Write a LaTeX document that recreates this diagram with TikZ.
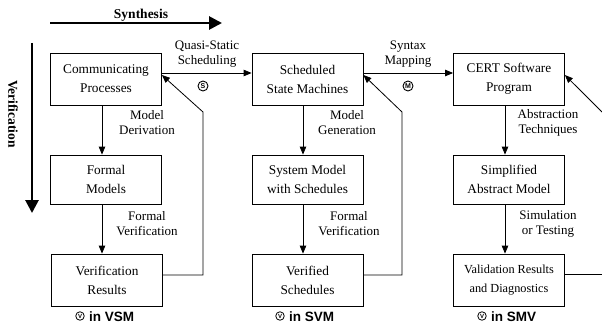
\documentclass[tikz,border=0pt]{standalone}
\usepackage{fontspec}
\setmainfont{Liberation Serif}
\newfontfamily\arialf{Liberation Sans}
\usetikzlibrary{arrows.meta}
\begin{document}
\begin{tikzpicture}[x=1pt,y=-1pt,
  box/.style={draw,line width=0.8pt,minimum width=111pt,inner sep=0pt,align=center,font=\fontsize{13.3}{19}\selectfont},
  lbl/.style={align=center,inner sep=0pt,font=\fontsize{13}{15}\selectfont},
  conn/.style={line width=0.8pt,-{Triangle[length=8pt,width=6.5pt]}},
  line/.style={line width=0.8pt},
  big/.style={line width=2.8pt,-{Triangle[length=13pt,width=13pt]}},
  circ/.style={draw,circle,line width=0.9pt,inner sep=0.4pt,minimum size=10pt,font=\arialf\bfseries\fontsize{7}{7}\selectfont},
  vlab/.style={inner sep=0pt,font=\arialf\bfseries\fontsize{13.5}{13.5}\selectfont},
  vcirc/.style={draw,circle,line width=0.8pt,inner sep=0pt,minimum size=8.5pt,font=\arialf\bfseries\fontsize{6}{6}\selectfont}
]
\useasboundingbox (0,0) rectangle (602,329);
% big axes
\node[font=\bfseries\fontsize{13.5}{13.5}\selectfont,inner sep=0pt] (syn) at (141,15) {Synthesis};
\coordinate (sa) at (50,23); \coordinate (sb) at (222,23);
\draw[big] (sa) -- (sb);
\node[font=\bfseries\fontsize{13.5}{13.5}\selectfont,inner sep=0pt,rotate=-90] (ver) at (13,114) {Verification};
\coordinate (va) at (32,43); \coordinate (vb) at (32,213);
\draw[big] (va) -- (vb);
% column 1
\node[box,minimum height=52pt] (cp) at (106,79) {Communicating\\Processes};
\node[box,minimum height=49pt] (fm) at (106,179.5) {Formal\\Models};
\node[box,minimum height=52pt] (vr) at (107,280) {Verification\\Results};
\draw[conn] ([xshift=-4pt]cp.south) -- ([xshift=-4pt]fm.north) ;
\draw[conn] ([xshift=-4pt]fm.south) -- ([xshift=-5pt]vr.north);
\node[lbl] (l1) at (147,123) {Model\\Derivation};
\node[lbl] (l2) at (147,224) {Formal\\Verification};
\coordinate (f1) at (203,112);
\draw[conn] ([yshift=5pt]vr.east) -| (f1) -- ([yshift=4pt]cp.east);
\node[vlab,anchor=west] (b1) at (89,317) {in VSM};
\node[vcirc] (v1) at (80,316) {V};
% column 2
\node[box,minimum height=52pt] (ssm) at (307.5,79) {Scheduled\\State Machines};
\node[box,minimum height=49pt] (sms) at (307.5,179.5) {System Model\\with Schedules};
\node[box,minimum height=52pt] (vs) at (307.5,280) {Verified\\Schedules};
\draw[conn] ([xshift=-4.5pt]ssm.south) -- ([xshift=-4.5pt]sms.north);
\draw[conn] ([xshift=-4.5pt]sms.south) -- ([xshift=-4.5pt]vs.north);
\node[lbl] (l3) at (347,123) {Model\\Generation};
\node[lbl] (l4) at (349,224) {Formal\\Verification};
\coordinate (f2) at (402,112);
\draw[conn] ([yshift=5pt]vs.east) -| (f2) -- ([yshift=4pt]ssm.east);
\node[vlab,anchor=west] (b2) at (289,317) {in SVM};
\node[vcirc] (v2) at (280,316) {V};
% column 3
\node[box,minimum height=52pt] (cert) at (509,79) {CERT Software\\Program};
\node[box,minimum height=49pt] (sam) at (509,179.5) {Simplified\\Abstract Model};
\node[box,minimum height=52pt,font=\fontsize{12.3}{19}\selectfont] (vrd) at (509,280) {Validation Results\\and Diagnostics};
\draw[conn] ([xshift=-4pt]cert.south) -- ([xshift=-4pt]sam.north);
\draw[conn] ([xshift=-4pt]sam.south) -- ([xshift=-4pt]vrd.north);
\node[lbl] (l5) at (548,123) {Abstraction\\Techniques};
\node[lbl] (l6) at (548,224) {Simulation\\or Testing};
\coordinate (f3a) at (602,274);
\coordinate (f3b) at (602,112);
\draw[line] ([yshift=6pt]vrd.east) -- (f3a);
\draw[conn] (f3b) -- ([yshift=4pt]cert.east);
\node[vlab,anchor=west] (b3) at (491,317) {in SMV};
\node[vcirc] (v3) at (482,316) {V};
% horizontal links
\draw[conn] ([yshift=6pt]cp.east) -- ([yshift=6pt]ssm.west);
\node[lbl] (l7) at (207,54) {Quasi-Static\\Scheduling};
\node[circ] (cs) at (203,86) {S};
\draw[conn] ([yshift=6pt]ssm.east) -- ([yshift=6pt]cert.west);
\node[lbl] (l8) at (408,54) {Syntax\\Mapping};
\node[circ] (cm) at (408,86) {M};
\end{tikzpicture}
\end{document}
